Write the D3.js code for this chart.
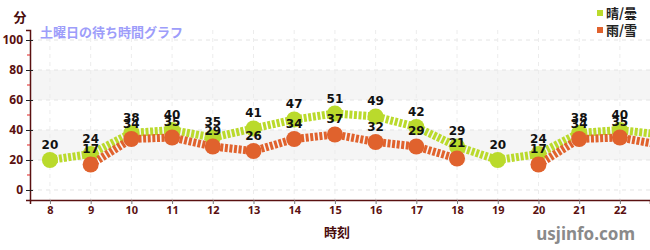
<!DOCTYPE html>
<html lang="ja">
<head>
<meta charset="UTF-8">
<title>土曜日の待ち時間グラフ</title>
<script src="https://d3js.org/d3.v7.min.js"></script>
<style>
  body { margin: 0; background: #fff; }
</style>
</head>
<body>
<div id="chart"></div>
<script>
// hours and wait times (minutes)
var hours = [8, 9, 10, 11, 12, 13, 14, 15, 16, 17, 18, 19, 20, 21, 22, 23];
var sunny = [20, 24, 38, 40, 35, 41, 47, 51, 49, 42, 29, 20, 24, 38, 40, 37];
var rainy = [null, 17, 34, 35, 29, 26, 34, 37, 32, 29, 21, null, 17, 34, 35, 30];
var yTicks = [0, 20, 40, 60, 80, 100];
var yMinor = [10, 30, 50, 70, 90];
var xTicks = [8, 9, 10, 11, 12, 13, 14, 15, 16, 17, 18, 19, 20, 21, 22];
var bands = [[20, 40], [60, 80]];
var series = [
  {name: "晴/曇", values: sunny, color: "#bada2c"},
  {name: "雨/雪", values: rainy, color: "#e0622d"}
];

var W = 650, H = 250;
var plotL = 30, plotR = 650, plotT = 30, plotB = 200;

var svg = d3.select("#chart").append("svg")
  .attr("width", W).attr("height", H);

var x = d3.scaleLinear().domain([7.51, 22.74]).range([plotL, plotR]);
var y = d3.scaleLinear().domain([-6.67, 106.67]).range([plotB, plotT]);

// background bands
svg.selectAll("rect.band").data(bands).enter().append("rect")
  .attr("x", plotL).attr("width", plotR - plotL)
  .attr("y", function(d) { return y(d[1]); })
  .attr("height", function(d) { return y(d[0]) - y(d[1]); })
  .attr("fill", "#f5f5f5");

// grid
svg.selectAll("line.hgrid").data(yTicks).enter().append("line")
  .attr("x1", plotL).attr("x2", plotR)
  .attr("y1", function(d) { return y(d); }).attr("y2", function(d) { return y(d); })
  .attr("stroke", "#e4e4e4").attr("stroke-dasharray", "4,4");
svg.selectAll("line.vgrid").data(xTicks).enter().append("line")
  .attr("x1", function(d) { return x(d); }).attr("x2", function(d) { return x(d); })
  .attr("y1", plotT).attr("y2", plotB)
  .attr("stroke", "#ececec").attr("stroke-dasharray", "4,4");

// title
svg.append("text").attr("x", 40).attr("y", 37)
  .attr("font-family", "Noto Sans CJK JP").attr("font-weight", "bold")
  .attr("font-size", 13).attr("fill", "#9d9dfa")
  .text("土曜日の待ち時間グラフ");

// lines, clipped to the plot
svg.append("clipPath").attr("id", "clip")
  .append("rect").attr("x", plotL).attr("y", 0).attr("width", plotR - plotL).attr("height", H);
var plot = svg.append("g").attr("clip-path", "url(#clip)");

var line = d3.line()
  .defined(function(d) { return d != null; })
  .x(function(d, i) { return x(hours[i]); })
  .y(function(d) { return y(d); });

function points(s) {
  return hours.map(function(h, i) { return {h: h, v: s.values[i]}; })
    .filter(function(p) { return p.v != null; });
}

series.forEach(function(s) {
  plot.append("path").datum(s.values)
    .attr("d", line)
    .attr("fill", "none")
    .attr("stroke", s.color)
    .attr("stroke-width", 8)
    .attr("stroke-dasharray", "3,1.6");
  plot.selectAll(null).data(points(s)).enter().append("circle")
    .attr("cx", function(p) { return x(p.h); })
    .attr("cy", function(p) { return y(p.v); })
    .attr("r", 8)
    .attr("fill", s.color);
});

// value labels (only for hours inside the visible range)
series.forEach(function(s) {
  var pts = points(s).filter(function(p) { return p.h <= x.domain()[1]; });
  plot.selectAll(null).data(pts).enter().append("text")
    .attr("x", function(p) { return x(p.h); })
    .attr("y", function(p) { return y(p.v) - 11; })
    .attr("text-anchor", "middle")
    .attr("font-family", "DejaVu Sans").attr("font-weight", "bold")
    .attr("font-size", 12).attr("fill", "#111")
    .text(function(p) { return p.v; });
});

// y axis
var axisColor = "#5a1010";
var yAxis = svg.append("g").attr("transform", "translate(" + plotL + ",0)")
  .call(d3.axisLeft(y).tickValues(yTicks).tickSize(4).tickPadding(3));
yAxis.select(".domain").attr("stroke", axisColor).attr("stroke-width", 1.5);
yAxis.selectAll(".tick line").attr("stroke", "#222").attr("x2", 3).attr("x1", -4);
yAxis.selectAll(".tick text")
  .attr("font-family", "Noto Sans").attr("font-weight", "bold")
  .attr("font-size", 12).attr("fill", axisColor);
svg.selectAll("line.minor").data(yMinor).enter().append("line")
  .attr("x1", plotL - 3).attr("x2", plotL)
  .attr("y1", function(d) { return y(d); }).attr("y2", function(d) { return y(d); })
  .attr("stroke", "#e02020");

svg.append("text").attr("x", 20).attr("y", 22).attr("text-anchor", "middle")
  .attr("font-family", "Noto Sans CJK JP").attr("font-weight", "bold")
  .attr("font-size", 13).attr("fill", "#4a0d0d").text("分");

// x axis
var xAxis = svg.append("g").attr("transform", "translate(0," + plotB + ")")
  .call(d3.axisBottom(x).tickValues(xTicks).tickSize(4).tickPadding(2).tickFormat(d3.format("d")));
xAxis.select(".domain").attr("stroke", axisColor).attr("stroke-width", 1.5);
xAxis.selectAll(".tick line").attr("stroke", "#777");
xAxis.selectAll(".tick text")
  .attr("font-family", "Noto Sans").attr("font-weight", "bold")
  .attr("font-size", 11).attr("fill", axisColor);

svg.append("text").attr("x", 337).attr("y", 237).attr("text-anchor", "middle")
  .attr("font-family", "Noto Sans CJK JP").attr("font-weight", "bold")
  .attr("font-size", 13).attr("fill", "#4a0d0d").text("時刻");

// legend
var legend = svg.selectAll("g.legend").data(series).enter().append("g")
  .attr("transform", function(d, i) { return "translate(597," + (10 + i * 17) + ")"; });
legend.append("rect").attr("width", 6).attr("height", 6)
  .attr("fill", function(d) { return d.color; });
legend.append("text").attr("x", 9).attr("y", 8)
  .attr("font-family", "Noto Sans CJK JP").attr("font-weight", "bold")
  .attr("font-size", 13).attr("fill", "#222")
  .text(function(d) { return d.name; });

// watermark
svg.append("text").attr("x", 635).attr("y", 240).attr("text-anchor", "end")
  .attr("font-family", "Noto Sans").attr("font-weight", "bold")
  .attr("font-size", 17).attr("fill", "#8a8a8a").text("usjinfo.com");
</script>
</body>
</html>
